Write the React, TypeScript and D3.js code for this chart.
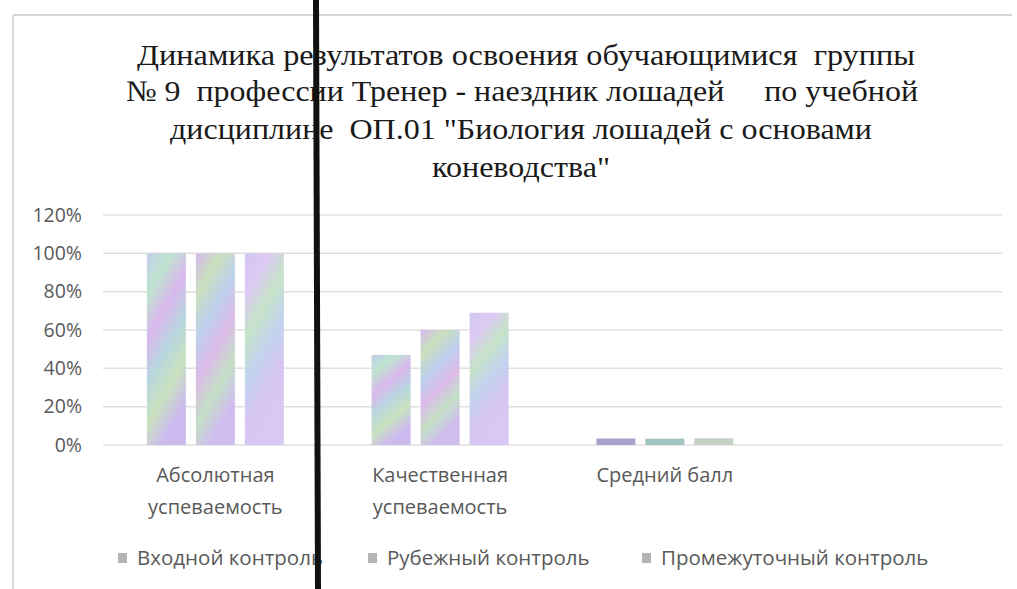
import React from 'react';
import * as d3 from 'd3';

const categories = ['Абсолютная\nуспеваемость', 'Качественная\nуспеваемость', 'Средний балл', ''];
const seriesNames = ['Входной контроль', 'Рубежный контроль', 'Промежуточный контроль'];
const inputValues = [1.0, 0.47, 0.034, null];
const midtermValues = [1.0, 0.6, 0.033, null];
const interimValues = [1.0, 0.69, 0.035, null];
const yTicks = [0, 0.2, 0.4, 0.6, 0.8, 1.0, 1.2];
const titleLines = [
  'Динамика результатов освоения обучающимися  группы',
  '№ 9  профессии Тренер - наездник лошадей     по учебной',
  'дисциплине  ОП.01 "Биология лошадей с основами',
  'коневодства"',
];

const W = 1017;
const H = 589;
const plot = { left: 103, right: 1002, top: 215, bottom: 445 };

// pastel "scan moiré" stops for each series
const stops = [
  ['#c3cfe9', '#bfe3cf', '#d9b8ee', '#b8d6de', '#c9e2bf', '#cdbbef'],
  ['#d5b9ef', '#cbe0bd', '#bcd0ec', '#dcbbe9', '#c4dfc6', '#d0bdf0'],
  ['#d2c6f1', '#dccaf3', '#c6e3c8', '#c2d3ee', '#d6c6f2', '#d7c9f3'],
];
const smallColors = ['#aaa4cc', '#9fc4c2', '#c3d1c3'];

const sans = "'Open Sans', Lato, sans-serif";

export default function App(): React.ReactElement {
  const series = [inputValues, midtermValues, interimValues];

  const x0 = d3.scaleBand<string>()
    .domain(categories.map((c, i) => String(i)))
    .range([plot.left, plot.right])
    .padding(0);
  const groupW = 137;
  const x1 = d3.scaleBand<number>()
    .domain([0, 1, 2])
    .range([(x0.bandwidth() - groupW) / 2, (x0.bandwidth() + groupW) / 2])
    .paddingInner(0.204)
    .paddingOuter(0);
  const y = d3.scaleLinear().domain([0, 1.2]).range([plot.bottom, plot.top]);
  const fmt = d3.format('.0%');

  const legendX = [118, 368, 642];
  const titleSpans = [
    [137, 915],
    [126, 918],
    [170, 872],
    [432, 610],
  ];
  const titleBase = [65, 101, 139, 177];

  return (
    <div style={{ position: 'absolute', left: 0, top: 0 }}>
      <svg width={W} height={H} style={{ display: 'block', background: '#fff' }}>
        <defs>
          {stops.map((s, i) => (
            <linearGradient key={i} id={`g${i}`} x1="0" y1="0" x2="0.35" y2="1">
              {s.map((c, j) => (
                <stop key={j} offset={`${(j / (s.length - 1)) * 100}%`} stopColor={c} />
              ))}
            </linearGradient>
          ))}
        </defs>

        {/* chart border */}
        <line x1={13} y1={15} x2={1012} y2={15} stroke="#d6d6d6" strokeWidth={2} />
        <line x1={13} y1={15} x2={13} y2={H} stroke="#dcdcdc" strokeWidth={2} />

        {/* title */}
        <g fill="#1a1a1a">
          {titleLines.map((t, i) => (
            <text
              key={i}
              x={titleSpans[i][0]}
              y={titleBase[i]}
              fontFamily="Liberation Serif"
              fontSize={30}
              textLength={titleSpans[i][1] - titleSpans[i][0]}
              lengthAdjust="spacingAndGlyphs"
              xmlSpace="preserve"
            >
              {t}
            </text>
          ))}
        </g>

        {/* gridlines + y labels */}
        <g style={{ fontFamily: sans, fontSize: 19.5 }} fill="#595959">
          {yTicks.map(t => (
            <g key={t}>
              <line x1={plot.left} x2={plot.right} y1={y(t)} y2={y(t)} stroke="#e0e0e0" strokeWidth={1.5} />
              <text x={82} y={y(t)} dy="0.35em" textAnchor="end">{fmt(t)}</text>
            </g>
          ))}
        </g>

        {/* bars */}
        {categories.map((c, ci) => (
          <g key={ci} transform={`translate(${x0(String(ci))},0)`}>
            {series.map((vals, si) => {
              const v = vals[ci];
              if (v == null) return null;
              const small = y(0) - y(v) < 12;
              return (
                <rect
                  key={si}
                  x={x1(si)}
                  width={x1.bandwidth()}
                  y={y(v)}
                  height={y(0) - y(v)}
                  fill={small ? smallColors[si] : `url(#g${si})`}
                />
              );
            })}
          </g>
        ))}

        {/* category labels */}
        <g style={{ fontFamily: sans, fontSize: 20 }} fill="#595959" textAnchor="middle">
          {categories.map((c, ci) =>
            c.split('\n').map((line, li) => (
              <text
                key={`${ci}-${li}`}
                x={(x0(String(ci)) as number) + x0.bandwidth() / 2}
                y={475 + li * 32}
                dy="0.35em"
              >
                {line}
              </text>
            ))
          )}
        </g>

        {/* legend */}
        <g style={{ fontFamily: sans, fontSize: 20.5 }} fill="#595959">
          {seriesNames.map((n, i) => (
            <g key={n}>
              <rect x={legendX[i]} y={553} width={9} height={10} fill="#b4b4b4" />
              <text x={legendX[i] + 19} y={558} dy="0.35em">{n}</text>
            </g>
          ))}
        </g>

        {/* scan artifact: dark vertical stripe */}
        <path d={`M313,0 L319,0 L321,${H} L315,${H} Z`} fill="#111" />
      </svg>
    </div>
  );
}
